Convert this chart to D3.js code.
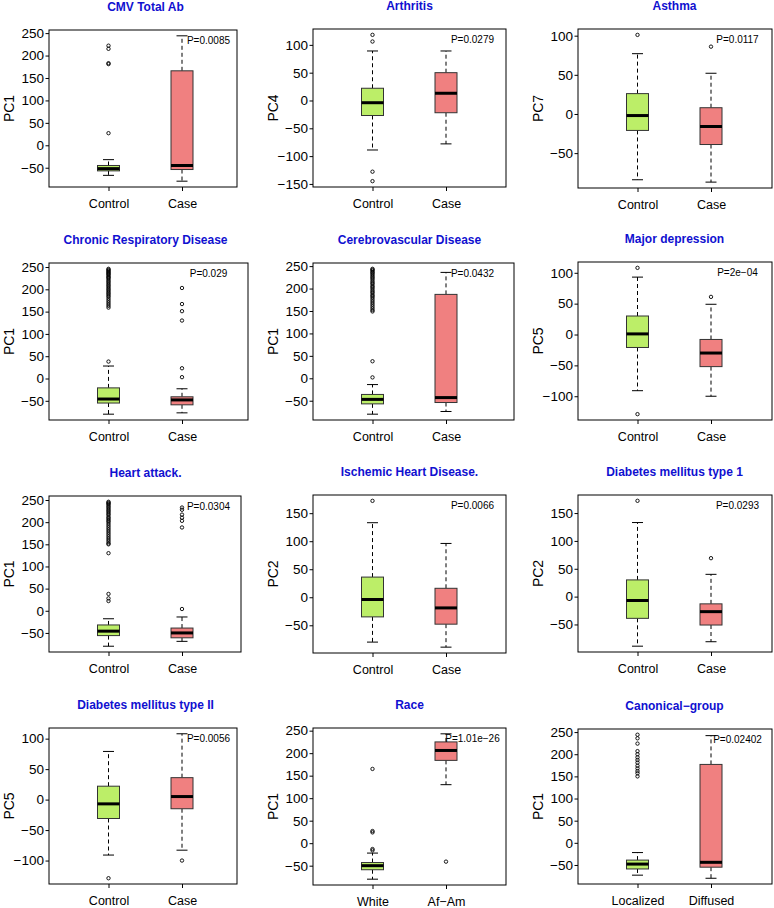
<!DOCTYPE html>
<html><head><meta charset="utf-8">
<script src="https://cdn.jsdelivr.net/npm/d3@7"></script>
<style>
html,body{margin:0;padding:0;background:#fff;}
svg{display:block;font-family:"Liberation Sans",Arial,Helvetica,sans-serif;}
</style></head><body>
<svg id="chart" width="774" height="908"></svg>
<script>
// ---------------- DATA ----------------
const titles = ["CMV Total Ab","Arthritis","Asthma","Chronic Respiratory Disease","Cerebrovascular Disease","Major depression","Heart attack.","Ischemic Heart Disease.","Diabetes mellitus type 1","Diabetes mellitus type II","Race","Canonical\u2212group"];
const yLabels = ["PC1","PC4","PC7","PC1","PC1","PC5","PC1","PC2","PC2","PC5","PC1","PC1"];
const groupLabels = [["Control","Case"],["Control","Case"],["Control","Case"],["Control","Case"],["Control","Case"],["Control","Case"],["Control","Case"],["Control","Case"],["Control","Case"],["Control","Case"],["White","Af\u2212Am"],["Localized","Diffused"]];
const pLabels = ["P=0.0085","P=0.0279","P=0.0117","P=0.029","P=0.0432","P=2e\u221204","P=0.0304","P=0.0066","P=0.0293","P=0.0056","P=1.01e\u221226","P=0.02402"];
const yTicks = [
  [-50,0,50,100,150,200,250],[-150,-100,-50,0,50,100],[-50,0,50,100],
  [-50,0,50,100,150,200,250],[-50,0,50,100,150,200,250],[-100,-50,0,50,100],
  [-50,0,50,100,150,200,250],[-50,0,50,100,150],[-50,0,50,100,150],
  [-100,-50,0,50,100],[-50,0,50,100,150,200,250],[-50,0,50,100,150,200,250]
];
// [lower whisker, Q1, median, Q3, upper whisker]
const controlStats = [
  [-67,-57,-52,-45,-32],[-89,-27,-4,22,89],[-84,-21,-2,26,77],
  [-80,-55,-46,-21,28],[-80,-57,-47,-36,-14],[-91,-21,1,30,93],
  [-80,-56,-46,-32,-18],[-80,-35,-4,36,133],[-89,-39,-7,30,133],
  [-91,-31,-7,22,79],[-80,-59,-50,-43,-22],[-73,-59,-48,-39,-22]
];
const caseStats = [
  [-80,-54,-45,166,244],[-78,-22,13,50,89],[-87,-39,-16,8,52],
  [-77,-59,-48,-41,-23],[-74,-54,-43,187,236],[-100,-52,-30,-8,49],
  [-69,-61,-50,-39,-14],[-89,-48,-19,16,96],[-81,-51,-27,-13,40],
  [-83,-15,5,36,108],[130,184,206,225,243],[-80,-55,-44,177,242]
];
const controlOutliers = [
  [222,215,183,181,27],
  [118,106,-128,-145],
  [101],
  [246,244,242,240,238,236,234,232,229,227,225,222,219,216,213,210,207,204,201,198,195,192,189,186,183,179,175,171,167,163,159,38],
  [244,242,240,237,235,232,229,226,223,220,216,213,210,206,203,200,196,193,190,186,183,180,176,172,168,164,160,156,152,149,38,2],
  [108,-129],
  [246,244,242,240,237,234,231,228,225,222,219,216,212,209,206,203,200,196,192,188,184,180,176,172,168,164,160,156,152,150,130,38,28,22],
  [172],
  [172],
  [-129],
  [165,27,24,-13,-16],
  [244,236,224,207,200,193,187,181,174,168,162,157,150]
];
const caseOutliers = [
  [],[],[86],[203,167,151,130,23,3],[],[61],
  [233,228,217,210,203,188,4],[],[69],[-100],[-41],[]
];

// ---------------- LAYOUT ----------------
const layout = [
  [49,237,30,187],[313,506,29,187],[578,772,29,188],
  [49,248,263,420],[313,514,263,420],[578,772,262,420],
  [49,241,496,652],[313,506,495,653],[578,772,495,652],
  [49,237,728,884],[313,506,728,885],[578,772,729,884]
];
const fills = ["#BCEE68","#F08080"];
const svg = d3.select("#chart");

titles.forEach((title, i) => {
  const [L, R, T, B] = layout[i];
  const g = svg.append("g");
  const all = controlStats[i].concat(caseStats[i], controlOutliers[i], caseOutliers[i]);
  const mn = d3.min(all), mx = d3.max(all), pad = (mx - mn) * 0.04;
  const y = d3.scaleLinear().domain([mn - pad, mx + pad]).range([B, T]);
  const x = d3.scaleLinear().domain([1, 2]).range([L + 59.5, L + 133]);

  // title
  g.append("text").attr("x", L + 96.5).attr("y", T - 19.5)
    .attr("text-anchor", "middle").attr("font-size", 12).attr("font-weight", "bold")
    .attr("fill", "#1010D0").text(title);

  // boxes
  const stats = [controlStats[i], caseStats[i]];
  const outs = [controlOutliers[i], caseOutliers[i]];
  const hw = 11;
  stats.forEach((s, k) => {
    const cx = x(k + 1);
    const [lo, q1, med, q3, hi] = s;
    g.append("line").attr("x1", cx).attr("x2", cx).attr("y1", y(q3)).attr("y2", y(hi))
      .attr("stroke", "#000").attr("stroke-dasharray", "4,3");
    g.append("line").attr("x1", cx).attr("x2", cx).attr("y1", y(q1)).attr("y2", y(lo))
      .attr("stroke", "#000").attr("stroke-dasharray", "4,3");
    [lo, hi].forEach(v => g.append("line").attr("x1", cx - 5.5).attr("x2", cx + 5.5)
      .attr("y1", y(v)).attr("y2", y(v)).attr("stroke", "#000"));
    g.append("rect").attr("x", cx - hw).attr("width", 2 * hw)
      .attr("y", y(q3)).attr("height", Math.max(0.5, y(q1) - y(q3)))
      .attr("fill", fills[k]).attr("stroke", "#333").attr("stroke-width", 1);
    g.append("line").attr("x1", cx - hw).attr("x2", cx + hw).attr("y1", y(med)).attr("y2", y(med))
      .attr("stroke", "#000").attr("stroke-width", 3);
    g.selectAll(null).data(outs[k]).enter().append("circle")
      .attr("cx", cx).attr("cy", d => y(d)).attr("r", 1.7)
      .attr("fill", "none").attr("stroke", "#000").attr("stroke-width", 0.9);
  });

  // frame
  g.append("rect").attr("x", L).attr("y", T).attr("width", R - L).attr("height", B - T)
    .attr("fill", "none").attr("stroke", "#000").attr("stroke-width", 1);

  // axes
  const ya = g.append("g").attr("transform", `translate(${L},0)`)
    .call(d3.axisLeft(y).tickValues(yTicks[i]).tickFormat(d3.format("d")).tickSize(3.5).tickPadding(1.5));
  ya.select(".domain").remove();
  ya.selectAll("text").attr("font-size", 13.5).attr("fill", "#000").attr("font-family", null);
  const xa = g.append("g").attr("transform", `translate(0,${B})`)
    .call(d3.axisBottom(x).tickValues([1, 2]).tickFormat(d => groupLabels[i][d - 1]).tickSize(4).tickPadding(8));
  xa.select(".domain").remove();
  xa.selectAll("text").attr("font-size", 12.5).attr("fill", "#000").attr("font-family", null);

  // y label
  g.append("text").attr("transform", `translate(${L - 35},${(T + B) / 2}) rotate(-90)`)
    .attr("text-anchor", "middle").attr("font-size", 14).text(yLabels[i]);

  // p-value
  g.append("text").attr("x", L + 159.5).attr("y", T + 13.5).attr("text-anchor", "middle")
    .attr("font-size", 10).text(pLabels[i]);
});
</script>
</body></html>
